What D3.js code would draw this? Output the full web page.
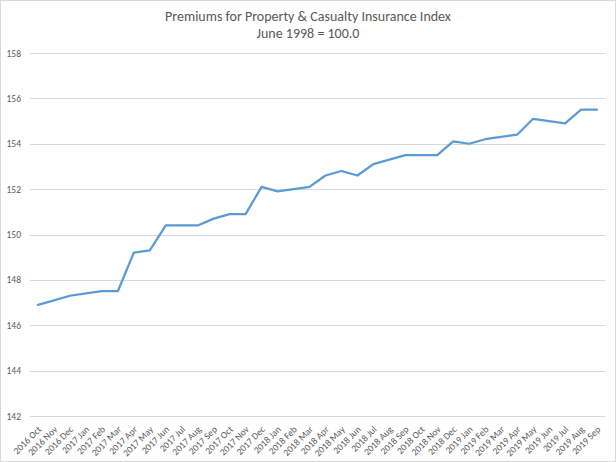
<!DOCTYPE html>
<html><head><meta charset="utf-8">
<script src="https://cdn.jsdelivr.net/npm/d3@7/dist/d3.min.js"></script>
<style>body{margin:0;background:#fff}svg{display:block}</style>
</head><body><svg id="c" width="616" height="462"></svg>
<script>
const categories = ["2016 Oct","2016 Nov","2016 Dec","2017 Jan","2017 Feb","2017 Mar","2017 Apr","2017 May","2017 Jun","2017 Jul","2017 Aug","2017 Sep","2017 Oct","2017 Nov","2017 Dec","2018 Jan","2018 Feb","2018 Mar","2018 Apr","2018 May","2018 Jun","2018 Jul","2018 Aug","2018 Sep","2018 Oct","2018 Nov","2018 Dec","2019 Jan","2019 Feb","2019 Mar","2019 Apr","2019 May","2019 Jun","2019 Jul","2019 Aug","2019 Sep"];
const values = [146.9,147.1,147.3,147.4,147.5,147.5,149.2,149.3,150.4,150.4,150.4,150.7,150.9,150.9,152.1,151.9,152.0,152.1,152.6,152.8,152.6,153.1,153.3,153.5,153.5,153.5,154.1,154.0,154.2,154.3,154.4,155.1,155.0,154.9,155.5,155.5];
const yTicks = [142,144,146,148,150,152,154,156,158];
const titleLines = ["Premiums for Property & Casualty Insurance Index","June 1998 = 100.0"];

(function(){
const svg = d3.select("#c");
const font = "Carlito, Calibri, 'Liberation Sans', Arial, sans-serif";
svg.append("rect").attr("x",0.5).attr("y",0.5).attr("width",615).attr("height",461)
  .attr("fill","#fff").attr("stroke","#d9d9d9");

const mL = 30, mR = 605, mT = 53, mB = 416;
const x = d3.scaleBand().domain(categories).range([mL,mR]);
const y = d3.scaleLinear().domain([142,158]).range([mB,mT]);

svg.append("g").selectAll("line").data(yTicks).join("line")
  .attr("x1",mL).attr("x2",mR)
  .attr("y1",d=>Math.round(y(d))+0.5).attr("y2",d=>Math.round(y(d))+0.5)
  .attr("stroke","#d9d9d9").attr("stroke-width",1);

const ya = svg.append("g").attr("transform",`translate(${mL},0)`)
  .call(d3.axisLeft(y).tickValues(yTicks).tickSize(0).tickPadding(9));
ya.select(".domain").remove();
ya.selectAll("text").attr("fill","#595959").style("font-family",font).style("font-size","9.5px");

const xa = svg.append("g").attr("transform",`translate(0,${mB})`)
  .call(d3.axisBottom(x).tickSize(0).tickPadding(0));
xa.select(".domain").remove();
xa.selectAll("text")
  .attr("fill","#595959").style("font-family",font).style("font-size","9.5px")
  .attr("text-anchor","end").attr("dy",0).attr("y",0)
  .attr("transform","translate(4,14) rotate(-45)");

const line = d3.line().x((d,i)=>x(categories[i])+x.bandwidth()/2).y(d=>y(d));
svg.append("path").datum(values).attr("d",line)
  .attr("fill","none").attr("stroke","#5b9bd5").attr("stroke-width",2.25)
  .attr("stroke-linejoin","round").attr("stroke-linecap","round");

svg.append("g").selectAll("text").data(titleLines).join("text")
  .attr("x",308).attr("y",(d,i)=>21+i*17).attr("text-anchor","middle")
  .attr("fill","#595959").style("font-family",font).style("font-size","14px")
  .text(d=>d);
})();
</script></body></html>
